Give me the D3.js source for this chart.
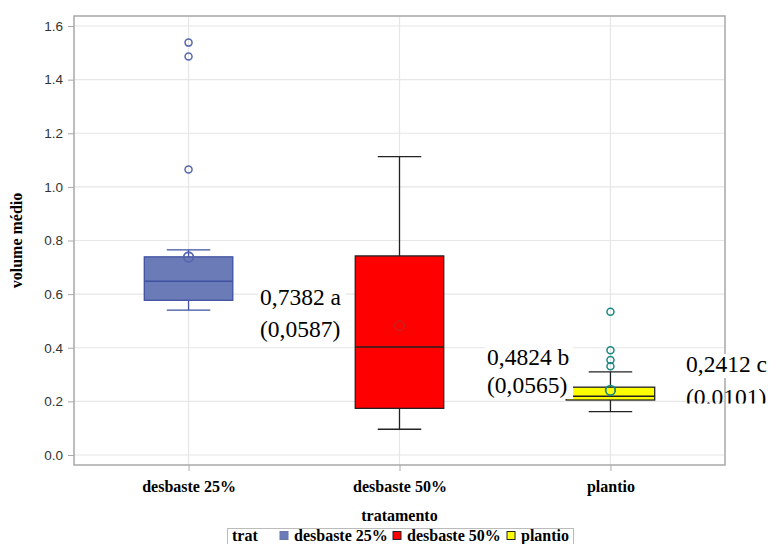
<!DOCTYPE html>
<html><head><meta charset="utf-8">
<script src="https://cdn.jsdelivr.net/npm/d3@7"></script>
<style>body{margin:0;background:#fff}svg{display:block}</style>
</head><body>
<svg id="c" width="772" height="544"></svg>
<script>
const categories = ["desbaste 25%", "desbaste 50%", "plantio"];
const whiskerLow = [0.540, 0.096, 0.162];
const q1 = [0.577, 0.174, 0.205];
const median = [0.648, 0.403, 0.219];
const q3 = [0.739, 0.7425, 0.253];
const whiskerHigh = [0.765, 1.113, 0.310];
const meanValue = [0.7382, 0.4824, 0.2412];
const outliers = [[1.538, 1.486, 1.065], [], [0.534, 0.391, 0.354, 0.331]];
const yTicks = [0.0, 0.2, 0.4, 0.6, 0.8, 1.0, 1.2, 1.4, 1.6];
const annotLine1 = ["0,7382 a", "0,4824 b", "0,2412 c"];
const annotLine2 = ["(0,0587)", "(0,0565)", "(0.0101)"];

const fills = ["#6B7BB8", "#FF0000", "#FFFF00"];
const strokes = ["#3F51A0", "#222", "#222"];
const dotColors = ["#5566AE", "#B03030", "#1A8A80"];

const svg = d3.select("#c");
const L = 74, R = 725, T = 16, B = 465;
const x = d3.scalePoint().domain(categories).range([L, R]).padding(0.543);
const y = d3.scaleLinear().domain([-0.0373, 1.6373]).range([B, T]);

// gridlines
svg.append("g").selectAll("line.h").data(yTicks).join("line")
  .attr("x1", L).attr("x2", R).attr("y1", d => y(d)).attr("y2", d => y(d))
  .attr("stroke", "#e6e6e6").attr("stroke-width", 1.2);
svg.append("g").selectAll("line.v").data(categories).join("line")
  .attr("y1", T).attr("y2", B).attr("x1", d => x(d)).attr("x2", d => x(d))
  .attr("stroke", "#e6e6e6").attr("stroke-width", 1.2);

// axes
const yAxis = svg.append("g").attr("transform", `translate(${L},0)`)
  .call(d3.axisLeft(y).tickValues(yTicks).tickFormat(d3.format(".1f")).tickSize(6).tickPadding(5));
yAxis.select(".domain").remove();
yAxis.selectAll(".tick line").attr("stroke", "#aaa");
yAxis.selectAll(".tick text").attr("fill", "#333").style("font-family", "Arial, 'Liberation Sans', sans-serif").style("font-size", "13.5px");

const serif = "'Liberation Serif', 'Times New Roman', serif";
const xAxis = svg.append("g").attr("transform", `translate(0,${B})`)
  .call(d3.axisBottom(x).tickSize(6).tickPadding(10));
xAxis.select(".domain").remove();
xAxis.selectAll(".tick line").attr("stroke", "#aaa");
xAxis.selectAll(".tick text").attr("fill", "#000")
  .style("font-family", serif).style("font-size", "16px").style("font-weight", "bold");

// boxes
const bw = 88.5, cw = 43.5;
const g = svg.append("g");
categories.forEach((c, i) => {
  const cx = x(c);
  const gg = g.append("g");
  gg.append("line").attr("x1", cx).attr("x2", cx).attr("y1", y(q3[i])).attr("y2", y(whiskerHigh[i])).attr("stroke", strokes[i]).attr("stroke-width", 1.3);
  gg.append("line").attr("x1", cx).attr("x2", cx).attr("y1", y(q1[i])).attr("y2", y(whiskerLow[i])).attr("stroke", strokes[i]).attr("stroke-width", 1.3);
  [whiskerHigh[i], whiskerLow[i]].forEach(v => gg.append("line")
    .attr("x1", cx - cw / 2).attr("x2", cx + cw / 2).attr("y1", y(v)).attr("y2", y(v))
    .attr("stroke", strokes[i]).attr("stroke-width", 1.3));
  gg.append("rect").attr("x", cx - bw / 2).attr("width", bw)
    .attr("y", y(q3[i])).attr("height", y(q1[i]) - y(q3[i]))
    .attr("fill", fills[i]).attr("stroke", strokes[i]).attr("stroke-width", 1.3);
  gg.append("line").attr("x1", cx - bw / 2).attr("x2", cx + bw / 2).attr("y1", y(median[i])).attr("y2", y(median[i]))
    .attr("stroke", strokes[i]).attr("stroke-width", 1.5);
  gg.append("circle").attr("cx", cx).attr("cy", y(meanValue[i])).attr("r", 4.8)
    .attr("fill", "none").attr("stroke", dotColors[i]).attr("stroke-width", i === 1 ? 1 : 1.8);
  gg.selectAll("circle.o").data(outliers[i]).join("circle").attr("class", "o")
    .attr("cx", cx).attr("cy", d => y(d)).attr("r", 3.5)
    .attr("fill", "none").attr("stroke", dotColors[i]).attr("stroke-width", 1.5);
});

// frame
svg.append("rect").attr("x", L).attr("y", T).attr("width", R - L).attr("height", B - T)
  .attr("fill", "none").attr("stroke", "#a8a8a8").attr("stroke-width", 1.5);

// axis titles
svg.append("text").attr("transform", `translate(22,${(T + B) / 2}) rotate(-90)`)
  .attr("text-anchor", "middle").style("font-family", serif).style("font-size", "16px").style("font-weight", "bold")
  .text("volume médio");
svg.append("text").attr("x", (L + R) / 2).attr("y", 521).attr("text-anchor", "middle")
  .style("font-family", serif).style("font-size", "16px").style("font-weight", "bold").text("tratamento");

// legend
const lg = svg.append("g");
lg.append("rect").attr("x", 227.5).attr("y", 528.5).attr("width", 346).attr("height", 20)
  .attr("fill", "#fff").attr("stroke", "#bbb");
lg.append("text").attr("x", 232).attr("y", 541).style("font-family", serif).style("font-size", "16px").style("font-weight", "bold").text("trat");
const legX = [280, 393, 507];
categories.forEach((c, i) => {
  lg.append("rect").attr("x", legX[i]).attr("y", 531.5).attr("width", 8).attr("height", 8)
    .attr("fill", fills[i]).attr("stroke", i === 0 ? "#6677aa" : "#222").attr("stroke-width", 1);
  lg.append("text").attr("x", legX[i] + 14).attr("y", 541).style("font-family", serif).style("font-size", "16px").style("font-weight", "bold").text(c);
});

// annotations
const annX = [260, 487, 686];
const annY1 = [305, 365, 372];
const annY2 = [337, 393, 405];
const defs = svg.append("defs");
defs.append("clipPath").attr("id", "clip3").append("rect").attr("x", 680).attr("y", 340).attr("width", 92).attr("height", 63.5);
categories.forEach((c, i) => {
  const ag = svg.append("g");
  if (i === 2) ag.attr("clip-path", "url(#clip3)");
  const w = 86;
  if (i !== 2) ag.append("rect").attr("x", annX[i] - 2).attr("y", annY1[i] - 18).attr("width", w + 2).attr("height", (annY2[i] - annY1[i]) + 24).attr("fill", "#fff");
  else ag.append("rect").attr("x", annX[i] - 2).attr("y", annY1[i] - 18).attr("width", w + 4).attr("height", 24).attr("fill", "#fff");
  ag.append("text").attr("x", annX[i]).attr("y", annY1[i]).style("font-family", serif).style("font-size", "23.5px").text(annotLine1[i]);
  ag.append("text").attr("x", annX[i]).attr("y", annY2[i]).style("font-family", serif).style("font-size", "23.5px").text(annotLine2[i]);
});
</script>
</body></html>
